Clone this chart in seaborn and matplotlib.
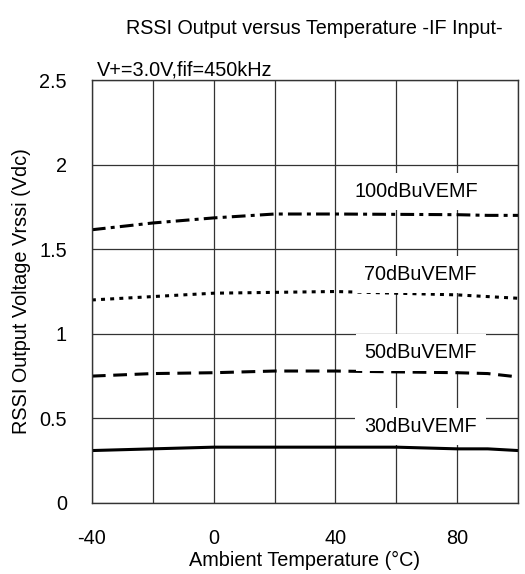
import numpy as np
import pandas as pd
import matplotlib
matplotlib.use("Agg")
import matplotlib.pyplot as plt
import seaborn as sns

# data
temps = [-40, -20, 0, 20, 40, 60, 80, 90, 100]
rssi_30 = [0.31, 0.32, 0.33, 0.33, 0.33, 0.33, 0.32, 0.32, 0.31]
rssi_50 = [0.75, 0.765, 0.77, 0.78, 0.78, 0.775, 0.77, 0.765, 0.745]
rssi_70 = [1.20, 1.22, 1.24, 1.245, 1.25, 1.24, 1.23, 1.22, 1.21]
rssi_100 = [1.615, 1.655, 1.685, 1.708, 1.708, 1.706, 1.704, 1.70, 1.70]

labels = ["30dBuVEMF", "50dBuVEMF", "70dBuVEMF", "100dBuVEMF"]
label_x = [68, 68, 68, 66.5]
label_y = [0.45, 0.89, 1.35, 1.84]

x_ticks = [-40, 0, 40, 80]
y_ticks = [0, 0.5, 1, 1.5, 2, 2.5]

sns.set_theme(style="white")
plt.rcParams['font.family'] = ['Liberation Sans', 'DejaVu Sans']
plt.rcParams['axes.unicode_minus'] = False
plt.rcParams['text.color'] = 'black'
plt.rcParams['axes.labelcolor'] = 'black'

FS = 14.3

fig = plt.figure(figsize=(5.25, 5.74), dpi=100)
ax = fig.add_axes([0.175, 0.1237, 0.812, 0.7369])

dashes = ['-', (0, (4.5, 2.5)), (0, (1.3, 1.7)), (0, (4.5, 1.7, 1.3, 1.7))]
series = [rssi_30, rssi_50, rssi_70, rssi_100]
for vals, ls in zip(series, dashes):
    sns.lineplot(x=temps, y=vals, ax=ax, color='black', lw=2.2, linestyle=ls)

ax.set_xlim(-40, 100)
ax.set_ylim(0, 2.5)
ax.set_xticks(np.arange(-40, 101, 20), minor=True)
ax.set_xticks(x_ticks)
ax.set_yticks(y_ticks)
ax.set_yticklabels(['0', '0.5', '1', '1.5', '2', '2.5'])
ax.grid(True, which='both', axis='x', color='#333333', lw=0.9)
ax.grid(True, which='major', axis='y', color='#333333', lw=0.9)
ax.set_axisbelow(True)
ax.tick_params(axis='both', which='both', length=0, labelsize=FS, colors='black')
ax.tick_params(axis='y', pad=18)
ax.tick_params(axis='x', pad=19)
for sp in ax.spines.values():
    sp.set_color('#333333')
    sp.set_linewidth(1.0)

for txt, lx, ly in zip(labels, label_x, label_y):
    ax.text(lx, ly, txt, ha='center', va='center', fontsize=FS, zorder=5,
            bbox=dict(boxstyle='square,pad=0.45', fc='white', ec='none'))

ax.set_xlabel("Ambient Temperature (°C)", fontsize=FS, labelpad=2)
ax.set_ylabel("RSSI Output Voltage Vrssi (Vdc)", fontsize=FS, labelpad=6)

fig.text(0.598, 0.951, "RSSI Output versus Temperature -IF Input-", ha='center', va='center',
         fontsize=14.2, family=['Liberation Sans Narrow', 'Liberation Sans', 'DejaVu Sans'])
fig.text(0.185, 0.878, "V+=3.0V,fif=450kHz", ha='left', va='center', fontsize=FS)

plt.savefig("out.png", dpi=100)
